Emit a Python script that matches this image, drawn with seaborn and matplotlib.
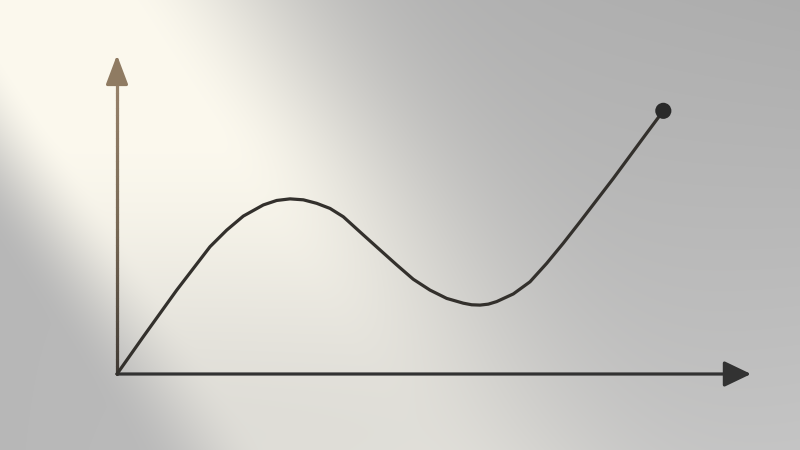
import numpy as np
import pandas as pd
import seaborn as sns
import matplotlib.pyplot as plt
from matplotlib.collections import LineCollection
from matplotlib.colors import LinearSegmentedColormap

# curve (axes run 0..10 on both sides)
curve_x = [0, 0.415, 0.942, 1.467, 1.730, 1.992, 2.308, 2.519, 2.729, 2.939,
           3.150, 3.360, 3.569, 3.885, 4.148, 4.412, 4.673, 4.937, 5.200,
           5.462, 5.594, 5.726, 5.857, 5.989, 6.251, 6.514, 6.778, 7.039,
           7.303, 7.828, 8.355, 8.617]
curve_y = [0, 1.17, 2.63, 3.99, 4.51, 4.95, 5.30, 5.44, 5.49, 5.46,
           5.35, 5.19, 4.93, 4.36, 3.89, 3.42, 2.97, 2.63, 2.37,
           2.22, 2.17, 2.16, 2.19, 2.27, 2.51, 2.89, 3.47, 4.10,
           4.77, 6.13, 7.55, 8.25]
end_x = [8.617]
end_y = [8.25]
axis_len = 10

df = pd.DataFrame({'x': curve_x, 'y': curve_y})

sns.set_theme(style='white')
fig = plt.figure(figsize=(8, 4.5), dpi=100)
ax = fig.add_axes([0, 0, 1, 1])

xlim = (-117 / 63.4, (800 - 117) / 63.4)
ylim = (-(450 - 374) / 31.9, 374 / 31.9)

# background: grey wall with a soft warm band of light from the top left
H, W = 450, 800
yy, xx = np.mgrid[0:H, 0:W].astype(float)


def smooth(t):
    t = np.clip(t, 0, 1)
    return t * t * (3 - 2 * t)


ux, uy = 0.554, 0.832                 # direction of the beam's left edge
d = xx * uy - (yy - 167) * ux         # distance in from that edge
edge = smooth((d + 45) / 110)
fade = np.where(d < 190, 1.0, np.exp(-0.5 * ((d - 190) / 105) ** 2))
along = 1 - 0.45 * smooth((yy - 120) / 320)
b = (edge * fade * along)[..., None]
gx, gy = xx / W, yy / H
base = (0.72 * (1 - gx) * (1 - gy) + 0.68 * gx * (1 - gy)
        + 0.72 * (1 - gx) * gy + 0.77 * gx * gy)[..., None] * np.ones(3)
cream = np.array([0.988, 0.976, 0.933])
bg = base * (1 - b) + cream * b
ax.imshow(bg, extent=(xlim[0], xlim[1], ylim[0], ylim[1]), aspect='auto',
          zorder=0, interpolation='bilinear')

# y axis: shaft fades from dark to warm brown in the light
ys = np.linspace(0, axis_len - 0.7, 40)
pts = np.array([np.zeros_like(ys), ys]).T.reshape(-1, 1, 2)
segs = np.concatenate([pts[:-1], pts[1:]], axis=1)
cmap = LinearSegmentedColormap.from_list('ax', ['#403a34', '#776854', '#97826a'])
lc = LineCollection(segs, cmap=cmap, linewidths=2.3, capstyle='round', zorder=2)
lc.set_array(ys[:-1] / ys.max())
ax.add_collection(lc)
ax.annotate('', xy=(0, axis_len), xytext=(0, axis_len - 0.8),
            arrowprops=dict(arrowstyle='-|>,head_length=18,head_width=6.8',
                            mutation_scale=1, color='#8f7b62', lw=2.3,
                            shrinkA=0, shrinkB=0), zorder=3)

# x axis
ax.annotate('', xy=(axis_len, 0), xytext=(0, 0),
            arrowprops=dict(arrowstyle='-|>,head_length=16.5,head_width=7.9',
                            mutation_scale=1, color='#323232', lw=2.3,
                            shrinkA=0, shrinkB=0), zorder=3)

sns.lineplot(data=df, x='x', y='y', color='#33302c', linewidth=2.3,
             sort=False, ax=ax, zorder=4, solid_joinstyle='round',
             solid_capstyle='round')
sns.scatterplot(x=end_x, y=end_y, color='#2a2a2a', s=135, edgecolor='none',
                ax=ax, zorder=5)

ax.set_xlim(*xlim)
ax.set_ylim(*ylim)
ax.set_axis_off()

fig.savefig('out.png', dpi=100)
